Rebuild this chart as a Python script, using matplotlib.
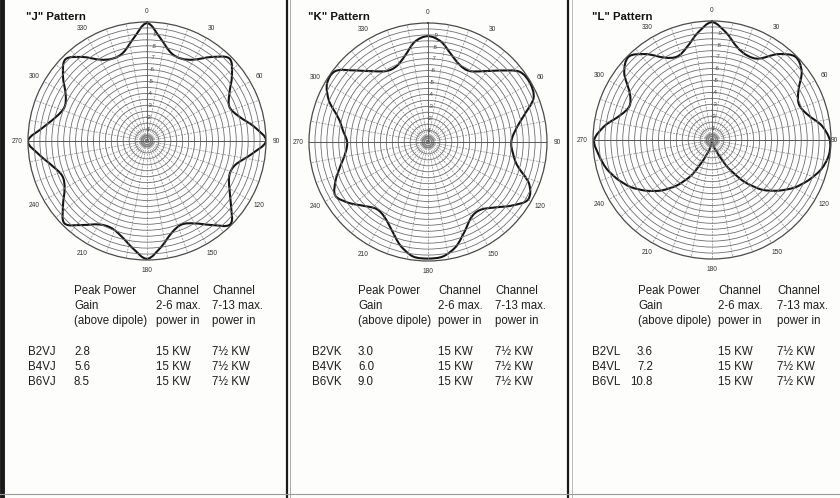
import numpy as np
import matplotlib.pyplot as plt
from matplotlib.lines import Line2D
from matplotlib.path import Path
from matplotlib.patches import PathPatch

# relative field strength, every 7.5 degrees clockwise from 0
angles = np.arange(0, 360, 7.5)

j_field = [0.99, 0.87, 0.77, 0.75, 0.79, 0.89, 0.98, 0.90, 0.80, 0.75, 0.80, 0.91,
           1.00, 0.88, 0.77, 0.75, 0.80, 0.89, 0.99, 0.89, 0.80, 0.76, 0.80, 0.90,
           0.99, 0.91, 0.83, 0.79, 0.81, 0.89, 0.98, 0.89, 0.80, 0.77, 0.82, 0.91,
           1.00, 0.88, 0.79, 0.75, 0.79, 0.89, 0.97, 0.89, 0.79, 0.75, 0.77, 0.87]

k_field = [0.89, 0.85, 0.76, 0.70, 0.69, 0.75, 0.85, 0.97, 0.99, 0.96, 0.83, 0.74,
           0.70, 0.72, 0.78, 0.92, 0.97, 0.88, 0.78, 0.72, 0.73, 0.81, 0.91, 0.97,
           0.98, 0.97, 0.90, 0.80, 0.73, 0.71, 0.76, 0.84, 0.90, 0.84, 0.76, 0.70,
           0.68, 0.72, 0.78, 0.90, 0.98, 0.98, 0.85, 0.75, 0.69, 0.69, 0.75, 0.85]

l_field = [0.99, 0.91, 0.81, 0.77, 0.79, 0.91, 0.99, 0.95, 0.84, 0.79, 0.83, 0.93,
           0.99, 0.99, 0.95, 0.88, 0.80, 0.70, 0.59, 0.44, 0.27, 0.12, 0.06, 0.02,
           0.00, 0.03, 0.08, 0.17, 0.34, 0.48, 0.60, 0.70, 0.79, 0.86, 0.92, 0.96,
           0.99, 0.91, 0.80, 0.75, 0.80, 0.93, 0.99, 0.91, 0.80, 0.76, 0.81, 0.91]

angle_labels = ["0", "30", "60", "90", "120", "150", "180", "210", "240", "270", "300", "330"]
ring_labels = [".1", ".2", ".3", ".4", ".5", ".6", ".7", ".8", ".9"]

titles = ['"J" Pattern', '"K" Pattern', '"L" Pattern']
header_gain = ["Peak Power", "Gain", "(above dipole)"]
header_low = ["Channel", "2-6 max.", "power in"]
header_high = ["Channel", "7-13 max.", "power in"]

j_models = ["B2VJ", "B4VJ", "B6VJ"]
k_models = ["B2VK", "B4VK", "B6VK"]
l_models = ["B2VL", "B4VL", "B6VL"]
j_gain = ["2.8", "5.6", "8.5"]
k_gain = ["3.0", "6.0", "9.0"]
l_gain = ["3.6", "7.2", "10.8"]
power_low = ["15 KW", "15 KW", "15 KW"]
power_high = ["7\u00bd KW", "7\u00bd KW", "7\u00bd KW"]

W, H = 840, 498
plt.rcParams['font.family'] = ['Liberation Sans', 'DejaVu Sans']
fig = plt.figure(figsize=(8.4, 4.98), dpi=100)
fig.patch.set_facecolor('#fdfdfb')

bg = fig.add_axes([0, 0, 1, 1])
bg.set_xlim(0, W)
bg.set_ylim(H, 0)
bg.axis("off")

# page edges / panel separators
bg.add_line(Line2D([2, 2], [0, H], color='#1a1a1a', lw=3.5))
bg.add_line(Line2D([287, 287], [0, H], color='#1a1a1a', lw=1.6))
bg.add_line(Line2D([290, 290], [0, H], color='#9a9a9a', lw=0.6))
bg.add_line(Line2D([568, 568], [0, H], color='#1a1a1a', lw=1.6))
bg.add_line(Line2D([572, 572], [0, H], color='#b0b0b0', lw=0.6))
bg.add_line(Line2D([0, W], [494, 494], color='#9a9a9a', lw=0.8))


def smooth_outline(theta_deg, r):
    # closed Catmull-Rom style bezier through the read points, in (theta, r) data space
    th = np.deg2rad(np.asarray(theta_deg, float))
    r = np.asarray(r, float)
    n = len(th)
    T = np.concatenate([[th[-1] - 2 * np.pi], th, [th[0] + 2 * np.pi, th[1] + 2 * np.pi]])
    R = np.concatenate([[r[-1]], r, [r[0], r[1]]])
    P = np.column_stack([T, R])
    verts = [P[1]]
    codes = [Path.MOVETO]
    for i in range(1, n + 1):
        c1 = P[i] + (P[i + 1] - P[i - 1]) / 6
        c2 = P[i + 1] - (P[i + 2] - P[i]) / 6
        verts += [c1, c2, P[i + 1]]
        codes += [Path.CURVE4] * 3
    return Path(np.array(verts), codes)


def polar_chart(cx, cy, R, field, edge_right=False):
    ax = fig.add_axes([(cx - R) / W, (H - cy - R) / H, 2 * R / W, 2 * R / H],
                      projection='polar')
    ax.set_theta_zero_location('N')
    ax.set_theta_direction(-1)
    ax.set_ylim(0, 1)
    ax.set_facecolor('white')
    ax.set_rticks(np.arange(0.05, 1.0, 0.05))
    ax.set_thetagrids(np.arange(0, 360, 10))
    ax.set_xticklabels([])
    ax.set_yticklabels([])
    ax.tick_params(length=0)
    ax.yaxis.grid(True, color='#6e6e6e', lw=0.6)
    ax.xaxis.grid(True, color='#8a8a8a', lw=0.5, linestyle=(0, (3, 1.5)))
    ax.spines['polar'].set_color('#4a4a4a')
    ax.spines['polar'].set_linewidth(0.9)
    # bullseye rings at the centre
    t = np.linspace(0, 2 * np.pi, 100)
    for rr in (0.015, 0.03, 0.045):
        ax.plot(t, np.full_like(t, rr), color='#777777', lw=0.6)
    ax.plot([np.pi / 2, np.pi / 2], [0, 1], color='#555555', lw=0.7)
    ax.plot([3 * np.pi / 2, 3 * np.pi / 2], [0, 1], color='#555555', lw=0.7)
    ax.plot([0, 0], [0, 1], color='#666666', lw=0.7)
    for k, lab in enumerate(angle_labels):
        a = np.deg2rad(30 * k)
        if edge_right and lab == "90":
            ax.text(a, 1.055, lab, fontsize=4.8, ha='right', va='center',
                    color='#333333', clip_on=False)
            continue
        ax.text(a, 1.09, lab, fontsize=4.8, ha='center', va='center',
                color='#333333', clip_on=False)
    for k, lab in enumerate(ring_labels):
        ax.text(np.deg2rad(4), 0.1 * (k + 1), lab, fontsize=4.2, ha='center',
                va='center', color='#444444')
    ax.add_patch(PathPatch(smooth_outline(angles, field), transform=ax.transData,
                           fill=False, edgecolor='#151515', lw=1.5,
                           joinstyle='round'))
    return ax


polar_chart(147, 141, 119, j_field)
polar_chart(428, 142, 119, k_field)
polar_chart(712, 140, 119, l_field, edge_right=True)

txt = dict(fontsize=8.3, color='#1e1e1e', va='center')
panels = [
    (26, titles[0], 28, 74, 156, 212, j_models, j_gain, 'left'),
    (308, titles[1], 312, 358, 438, 495, k_models, k_gain, 'left'),
    (592, titles[2], 592, 653, 718, 777, l_models, l_gain, 'right'),
]
for tx, title, xm, xg, xl, xh, models, gains, gal in panels:
    bg.text(tx, 17, title, fontsize=8.2, fontweight='bold', va='center',
            color='#111111')
    hx = xg if gal == 'left' else xg - 15
    for i, y in enumerate([291, 306, 321]):
        bg.text(hx, y, header_gain[i], **txt)
        bg.text(xl, y, header_low[i], **txt)
        bg.text(xh, y, header_high[i], **txt)
    for i, y in enumerate([352, 367, 382]):
        bg.text(xm, y, models[i], **txt)
        bg.text(xg, y, gains[i], ha=gal, **txt)
        bg.text(xl, y, power_low[i], **txt)
        bg.text(xh, y, power_high[i], **txt)

fig.savefig("out.png", dpi=100, facecolor=fig.get_facecolor())
